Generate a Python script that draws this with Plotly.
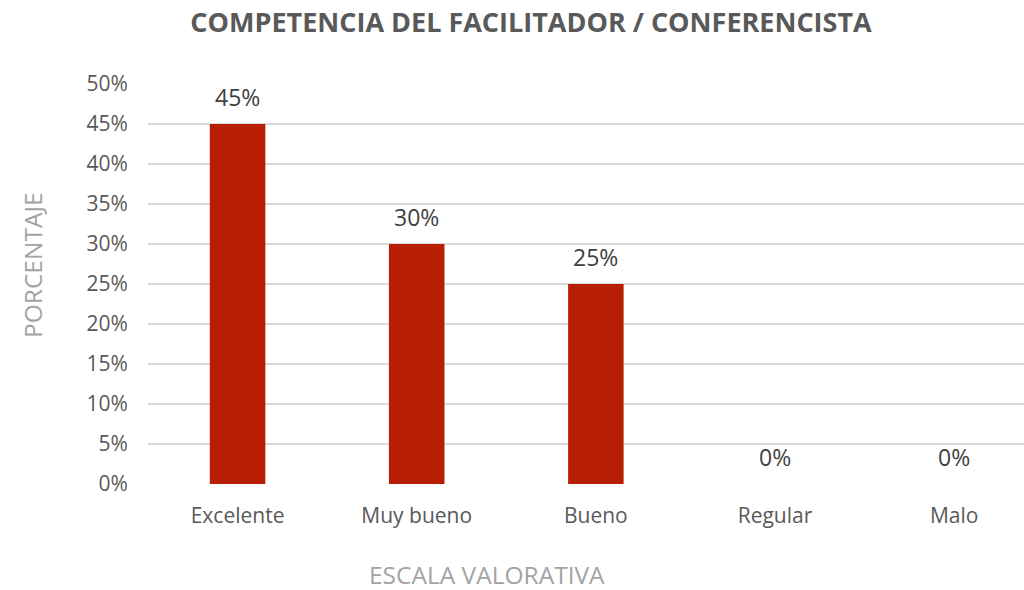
import plotly.graph_objects as go

categories = ["Excelente", "Muy bueno", "Bueno", "Regular", "Malo"]
values = [0.45, 0.30, 0.25, 0.0, 0.0]
tick_vals = [0, 0.05, 0.10, 0.15, 0.20, 0.25, 0.30, 0.35, 0.40, 0.45, 0.50]
tick_text = ["0%", "5%", "10%", "15%", "20%", "25%", "30%", "35%", "40%", "45%", "50%"]
labels = [f"{round(v*100)}%" for v in values]

FONT = "Open Sans"

L, T, B = 148, 84, 106
PW = 1024 - L  # plot width (right margin 0)
PH = 590 - T - B

fig = go.Figure()
fig.add_trace(go.Bar(
    x=categories, y=values, width=0.31,
    marker=dict(color="#B81E04", line=dict(width=0)),
    hoverinfo="skip",
))

for c, v, t in zip(categories, values, labels):
    fig.add_annotation(x=c, y=v, text=t, showarrow=False, yshift=27,
                       font=dict(family=FONT, size=23, color="#404040"))

fig.add_annotation(xref="paper", yref="paper", x=(487 - 148) / PW, y=-(574 - 484) / PH,
                   text="ESCALA VALORATIVA", showarrow=False, xanchor="center", yanchor="middle",
                   borderpad=0,
                   font=dict(family=FONT, size=24.5, color="#a3a3a3"))
fig.add_annotation(xref="paper", yref="paper", x=-(148 - 32) / PW, y=(484 - 265) / PH,
                   text="PORCENTAJE", showarrow=False, textangle=-90, xanchor="center", yanchor="middle",
                   font=dict(family=FONT, size=24.5, color="#a3a3a3"))

fig.update_layout(
    width=1024, height=590,
    margin=dict(l=L, r=0, t=T, b=B),
    paper_bgcolor="white", plot_bgcolor="white",
    showlegend=False,
    title=dict(text="<b>COMPETENCIA DEL FACILITADOR / CONFERENCISTA</b>",
               x=531 / 1024, xanchor="center", y=1 - 23 / 590, yanchor="middle",
               font=dict(family=FONT, size=27, color="#595959")),
    xaxis=dict(range=[-0.5, 4.39], showgrid=False, zeroline=False, showline=False,
               ticks="outside", ticklen=13, tickcolor="rgba(0,0,0,0)",
               tickfont=dict(family=FONT, size=21, color="#595959")),
    yaxis=dict(range=[0, 0.5], tickvals=tick_vals, ticktext=tick_text,
               showgrid=True, gridcolor="#d9d9d9", gridwidth=1.5, zeroline=False,
               showline=False, ticks="outside", ticklen=15, tickcolor="rgba(0,0,0,0)",
               tickfont=dict(family=FONT, size=21, color="#595959")),
)

fig.write_html("out.html", config={"displayModeBar": False},
               post_script="document.body.style.margin='0';")
